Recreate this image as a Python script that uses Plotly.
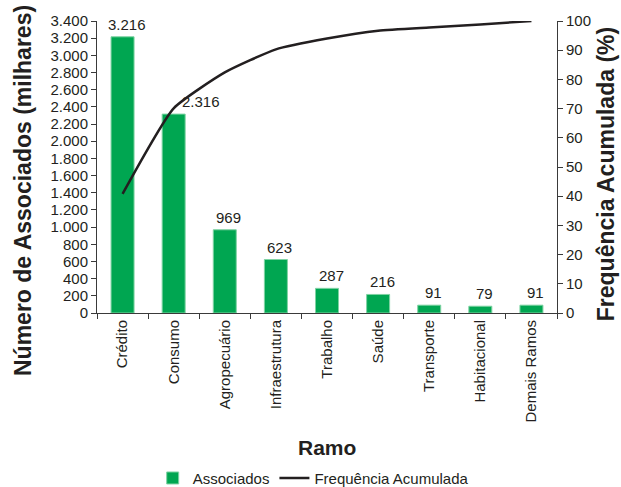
import plotly.graph_objects as go

categorias = ["Crédito", "Consumo", "Agropecuário", "Infraestrutura", "Trabalho",
              "Saúde", "Transporte", "Habitacional", "Demais Ramos"]
associados = [3216, 2316, 969, 623, 287, 216, 91, 79, 91]
freq_acumulada = [40.8, 70.1, 82.4, 90.3, 94.0, 96.7, 97.8, 98.8, 100.0]
rotulos = ["3.216", "2.316", "969", "623", "287", "216", "91", "79", "91"]

FONT = "Liberation Sans, Arial, sans-serif"
TXT = "#231F20"

fig = go.Figure()
fig.add_trace(go.Bar(
    x=categorias, y=associados, name="Associados",
    marker=dict(color="#00A651", line=dict(color="#7fd3a3", width=1)),
    width=0.45,
))
fig.add_trace(go.Scatter(
    x=categorias, y=freq_acumulada, name="Frequência Acumulada",
    yaxis="y2", mode="lines",
    line=dict(color=TXT, width=2.5, shape="spline", smoothing=0.5),
))

# value labels above bars (the Consumo label sits to the right of the line)
label_annotations = []
for cat, val, lab in zip(categorias, associados, rotulos):
    dx = 27 if cat == "Consumo" else 4
    label_annotations.append(dict(
        x=cat, y=val, xref="x", yref="y", text=lab, showarrow=False,
        xanchor="center", yanchor="bottom", xshift=dx, yshift=2,
        font=dict(size=15, color=TXT, family=FONT),
    ))

fig.update_layout(
    width=621, height=487,
    margin=dict(l=97, r=64, t=21, b=174, autoexpand=False),
    paper_bgcolor="white", plot_bgcolor="white",
    font=dict(family=FONT, size=15, color=TXT),
    separators=",.",
    showlegend=True,
    legend=dict(orientation="h", x=0.47, xanchor="center", yref="container",
                y=0.018, yanchor="middle",
                font=dict(size=15, color=TXT), itemwidth=30),
    xaxis=dict(
        showline=True, linecolor="#3a3a3a", linewidth=1,
        ticks="outside", ticklen=5, tickcolor="#3a3a3a", tickson="boundaries",
        tickangle=-90, tickfont=dict(size=15, color=TXT),
        showgrid=False, automargin=False,
    ),
    yaxis=dict(
        range=[0, 3400], dtick=200, tickformat=",d",
        showline=True, linecolor="#3a3a3a", linewidth=1,
        ticks="outside", ticklen=5, tickcolor="#3a3a3a",
        tickfont=dict(size=15, color=TXT),
        showgrid=False, zeroline=False, automargin=False,
    ),
    yaxis2=dict(
        range=[0, 100], dtick=10, overlaying="y", side="right",
        showline=True, linecolor="#3a3a3a", linewidth=1,
        ticks="outside", ticklen=5, tickcolor="#3a3a3a",
        tickfont=dict(size=15, color=TXT),
        showgrid=False, zeroline=False, automargin=False,
    ),
    annotations=label_annotations + [
        dict(text="<b>Número de Associados (milhares)</b>", textangle=-90,
             xref="paper", yref="paper", x=-0.161, y=0.421,
             xanchor="center", yanchor="middle", showarrow=False,
             font=dict(size=23, color=TXT)),
        dict(text="<b>Frequência Acumulada (%)</b>", textangle=-90,
             xref="paper", yref="paper", x=1.107, y=0.476,
             xanchor="center", yanchor="middle", showarrow=False,
             font=dict(size=23, color=TXT)),
        dict(text="<b>Ramo</b>",
             xref="paper", yref="paper", x=0.5, y=-0.459,
             xanchor="center", yanchor="middle", showarrow=False,
             font=dict(size=21, color=TXT)),
    ],
)

fig.write_html("out.html")
